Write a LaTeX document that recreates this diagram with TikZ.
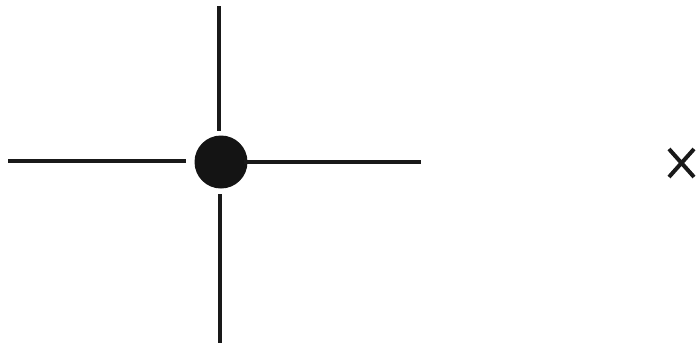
\documentclass[tikz,border=0pt]{standalone}
\begin{document}
\begin{tikzpicture}[x=1pt,y=-1pt,
  hair/.style={line width=3.3pt,black!90},
  crossmark/.style={line width=4pt,black!90}]
\useasboundingbox (0,0) rectangle (697,343);
\fill[white] (0,0) rectangle (697,343);
\node[circle,fill=black!92,minimum size=53pt,inner sep=0pt] (c) at (221,162) {};
\coordinate (l1) at (8,161);
\coordinate (l2) at (186,161);
\coordinate (r1) at (244,162);
\coordinate (r2) at (421,162);
\coordinate (t1) at (219,6);
\coordinate (t2) at (219,131);
\coordinate (b1) at (220,194);
\coordinate (b2) at (220,343);
\draw[hair] (l1) -- (l2);
\draw[hair] (r1) -- (r2);
\draw[hair] (t1) -- (t2);
\draw[hair] (b1) -- (b2);
\coordinate (x1) at (669,149);
\coordinate (x2) at (694,177);
\coordinate (x3) at (669,177);
\coordinate (x4) at (694,149);
\draw[crossmark] (x1) -- (x2);
\draw[crossmark] (x3) -- (x4);
\end{tikzpicture}
\end{document}
